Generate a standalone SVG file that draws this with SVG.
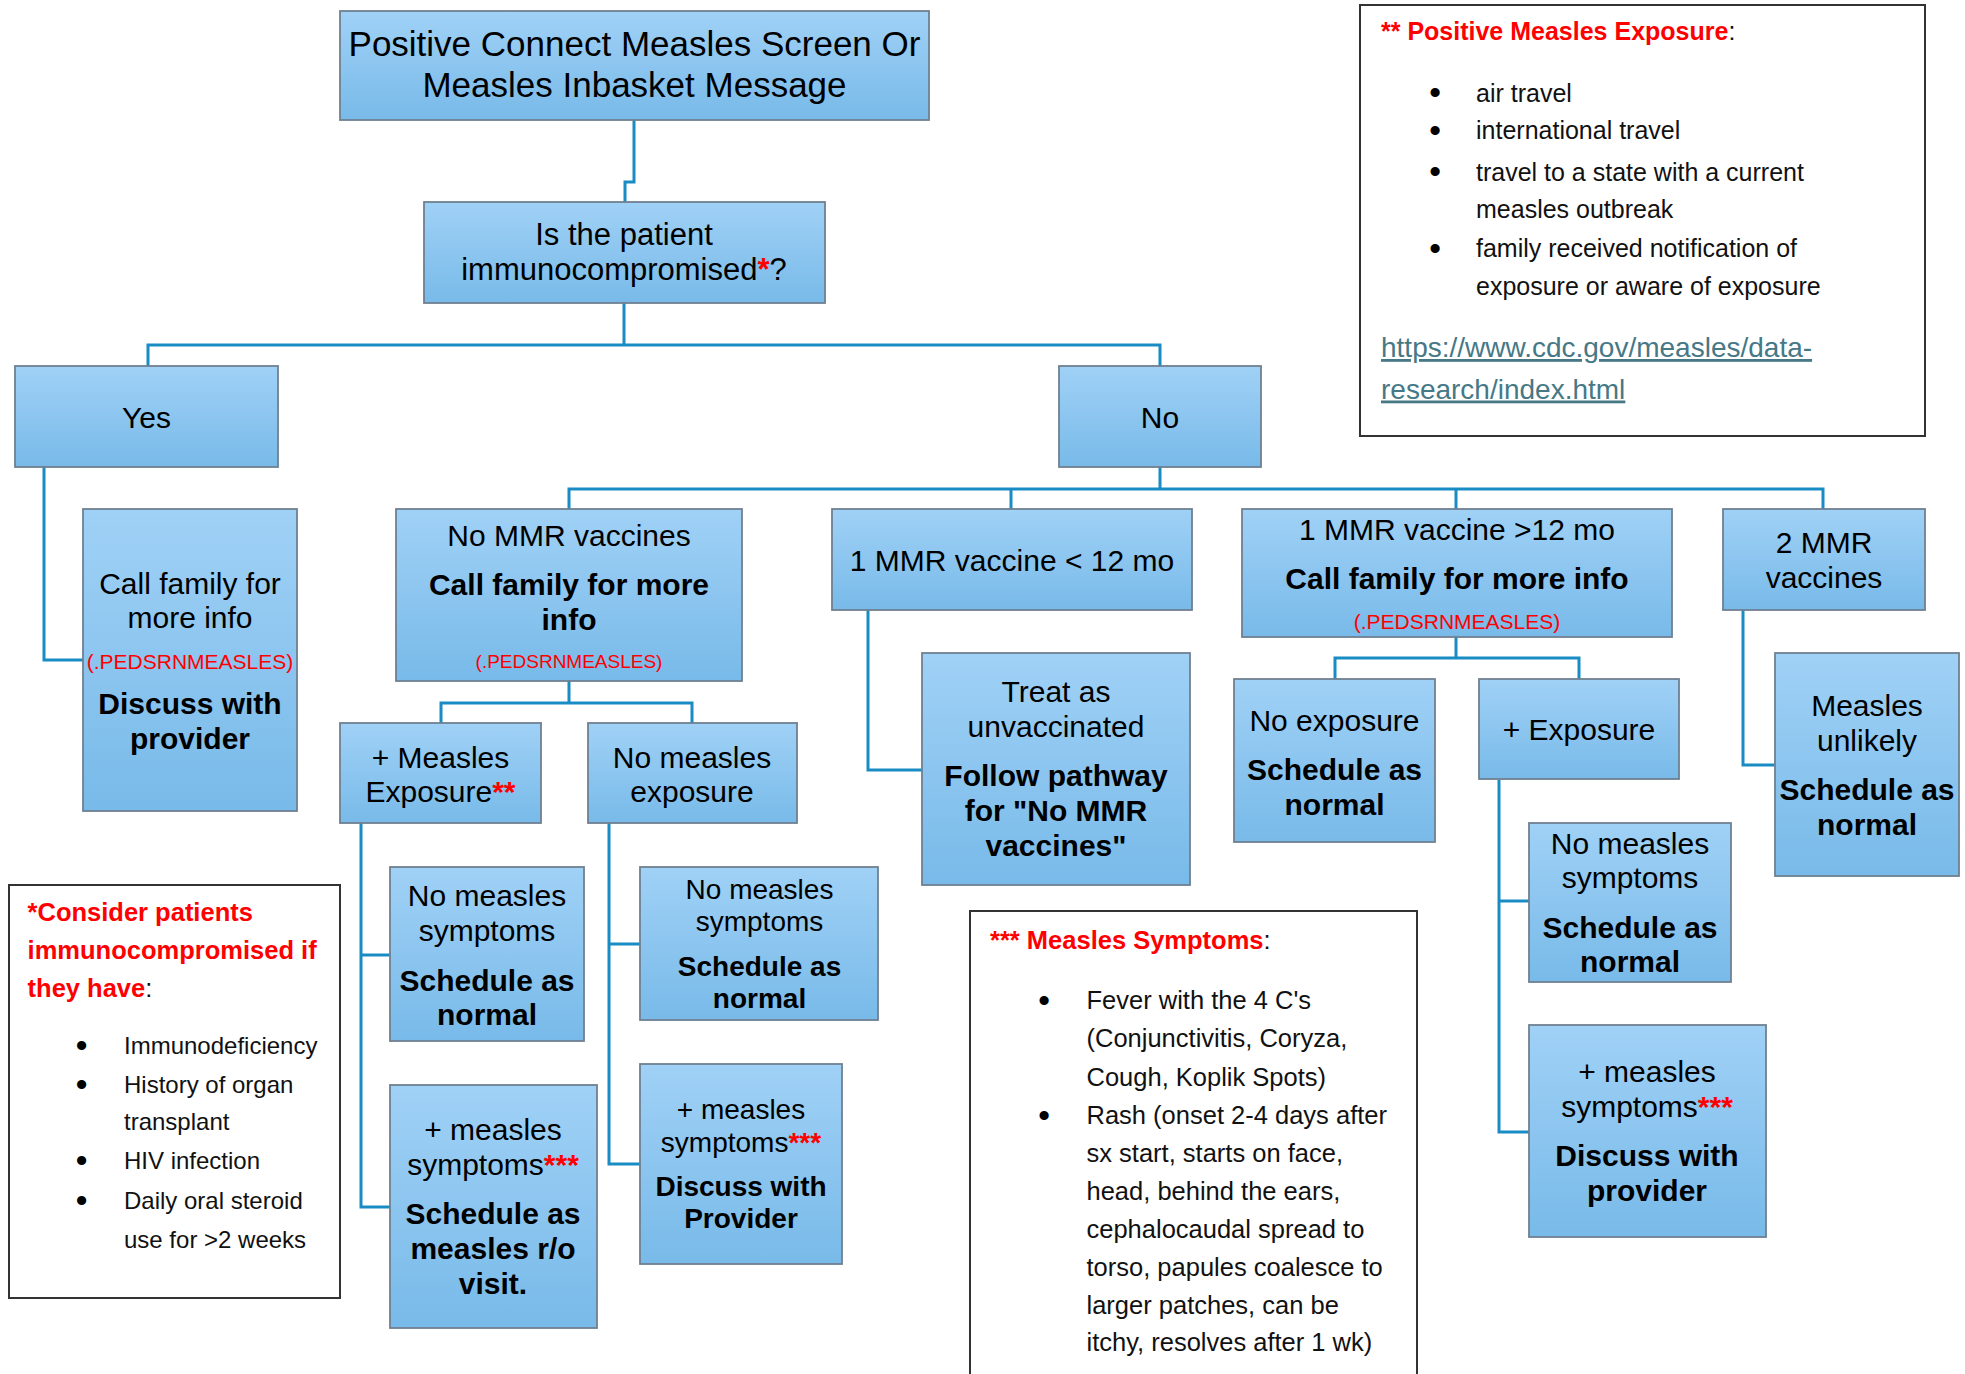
<svg xmlns="http://www.w3.org/2000/svg" width="1965" height="1374" viewBox="0 0 1965 1374">
<defs>
<linearGradient id="g" x1="0" y1="0" x2="0" y2="1">
<stop offset="0" stop-color="#A0D1F6"/>
<stop offset="1" stop-color="#78BAE9"/>
</linearGradient>
<style>
.n{fill:url(#g);stroke:#6F8091;stroke-width:1.8}
.lg{fill:#fff;stroke:#333;stroke-width:2}
.t{font-family:"Liberation Sans",Arial,sans-serif;font-size:30px;text-anchor:middle;fill:#000}
.l{font-family:"Liberation Sans",Arial,sans-serif;font-size:25px;fill:#111}
.b{font-weight:bold}
.r{fill:#FF0000}
.rs{fill:#FF0000;font-size:21px}
.m{font-size:28px}
.bu{text-anchor:middle;font-size:32px;font-weight:bold;fill:#000}
.lk{fill:#467886;font-size:28px;text-decoration:underline}
.c{fill:none;stroke:#1A8CC4;stroke-width:3}
</style>
</defs>
<rect width="1965" height="1374" fill="#fff"/>
<g id="connectors">
<path class="c" d="M634,120 V182 H625 V202"/>
<path class="c" d="M624,303 V345 M148,366 V345 H1160 V366"/>
<path class="c" d="M44,467 V660 H83"/>
<path class="c" d="M1160,467 V489 M569,509 V489 H1823 V509 M1011,489 V509 M1456,489 V509"/>
<path class="c" d="M569,681 V703 M441,723 V703 H692 V723"/>
<path class="c" d="M361,823 V1207 H390 M361,955 H390"/>
<path class="c" d="M609,823 V1164 H640 M609,944 H640"/>
<path class="c" d="M868,610 V770 H922"/>
<path class="c" d="M1456,637 V658 M1335,679 V658 H1579 V679"/>
<path class="c" d="M1499,780 V1132 H1529 M1499,901 H1529"/>
<path class="c" d="M1743,610 V765 H1775"/>
</g>
<g id="start">
<rect class="n" x="340" y="11" width="589" height="109"/>
<text class="t" x="634.5" y="56" style="font-size:35px">Positive Connect Measles Screen Or</text>
<text class="t" x="634.5" y="97" style="font-size:35px">Measles Inbasket Message</text>
</g>
<g id="question">
<rect class="n" x="424" y="202" width="401" height="101"/>
<text class="t" x="624" y="245" style="font-size:31px">Is the patient</text>
<text class="t" x="624" y="280" style="font-size:31px">immunocompromised<tspan class="r b">*</tspan>?</text>
</g>
<g id="yes">
<rect class="n" x="15" y="366" width="263" height="101"/>
<text class="t" x="146.5" y="428">Yes</text>
</g>
<g id="no">
<rect class="n" x="1059" y="366" width="202" height="101"/>
<text class="t" x="1160" y="428">No</text>
</g>
<g id="yes-call">
<rect class="n" x="83" y="509" width="214" height="302"/>
<text class="t" x="190" y="594">Call family for</text>
<text class="t" x="190" y="628">more info</text>
<text class="t rs" x="190" y="669">(.PEDSRNMEASLES)</text>
<text class="t b" x="190" y="714">Discuss with</text>
<text class="t b" x="190" y="749">provider</text>
</g>
<g id="no-mmr">
<rect class="n" x="396" y="509" width="346" height="172"/>
<text class="t" x="569" y="546">No MMR vaccines</text>
<text class="t b" x="569" y="595">Call family for more</text>
<text class="t b" x="569" y="630">info</text>
<text class="t rs" x="569" y="668" style="font-size:19px">(.PEDSRNMEASLES)</text>
</g>
<g id="pos-exposure-a">
<rect class="n" x="340" y="723" width="201" height="100"/>
<text class="t" x="440.5" y="768">+ Measles</text>
<text class="t" x="440.5" y="802">Exposure<tspan class="r b">**</tspan></text>
</g>
<g id="no-exposure-a">
<rect class="n" x="588" y="723" width="209" height="100"/>
<text class="t" x="692" y="768">No measles</text>
<text class="t" x="692" y="802">exposure</text>
</g>
<g id="no-symptoms-a">
<rect class="n" x="390" y="867" width="194" height="174"/>
<text class="t" x="487" y="906">No measles</text>
<text class="t" x="487" y="941">symptoms</text>
<text class="t b" x="487" y="991">Schedule as</text>
<text class="t b" x="487" y="1025">normal</text>
</g>
<g id="pos-symptoms-a">
<rect class="n" x="390" y="1085" width="207" height="243"/>
<text class="t" x="493" y="1140">+ measles</text>
<text class="t" x="493" y="1175">symptoms<tspan class="r b">***</tspan></text>
<text class="t b" x="493" y="1224">Schedule as</text>
<text class="t b" x="493" y="1259">measles r/o</text>
<text class="t b" x="493" y="1294">visit.</text>
</g>
<g id="no-symptoms-b">
<rect class="n" x="640" y="867" width="238" height="153"/>
<text class="t m" x="759.5" y="899">No measles</text>
<text class="t m" x="759.5" y="931">symptoms</text>
<text class="t m b" x="759.5" y="976">Schedule as</text>
<text class="t m b" x="759.5" y="1008">normal</text>
</g>
<g id="pos-symptoms-b">
<rect class="n" x="640" y="1064" width="202" height="200"/>
<text class="t m" x="741" y="1119">+ measles</text>
<text class="t m" x="741" y="1152">symptoms<tspan class="r b">***</tspan></text>
<text class="t m b" x="741" y="1196">Discuss with</text>
<text class="t m b" x="741" y="1228">Provider</text>
</g>
<g id="one-mmr-under12">
<rect class="n" x="832" y="509" width="360" height="101"/>
<text class="t" x="1012" y="571">1 MMR vaccine &lt; 12 mo</text>
</g>
<g id="treat-unvaccinated">
<rect class="n" x="922" y="653" width="268" height="232"/>
<text class="t" x="1056" y="702">Treat as</text>
<text class="t" x="1056" y="737">unvaccinated</text>
<text class="t b" x="1056" y="786">Follow pathway</text>
<text class="t b" x="1056" y="821">for "No MMR</text>
<text class="t b" x="1056" y="856">vaccines"</text>
</g>
<g id="one-mmr-over12">
<rect class="n" x="1242" y="509" width="430" height="128"/>
<text class="t" x="1457" y="540">1 MMR vaccine &gt;12 mo</text>
<text class="t b" x="1457" y="589">Call family for more info</text>
<text class="t rs" x="1457" y="629">(.PEDSRNMEASLES)</text>
</g>
<g id="no-exposure-c">
<rect class="n" x="1234" y="679" width="201" height="163"/>
<text class="t" x="1334.5" y="731">No exposure</text>
<text class="t b" x="1334.5" y="780">Schedule as</text>
<text class="t b" x="1334.5" y="815">normal</text>
</g>
<g id="pos-exposure-c">
<rect class="n" x="1479" y="679" width="200" height="100"/>
<text class="t" x="1579" y="740">+ Exposure</text>
</g>
<g id="no-symptoms-c">
<rect class="n" x="1529" y="823" width="202" height="159"/>
<text class="t" x="1630" y="854">No measles</text>
<text class="t" x="1630" y="888">symptoms</text>
<text class="t b" x="1630" y="938">Schedule as</text>
<text class="t b" x="1630" y="972">normal</text>
</g>
<g id="pos-symptoms-c">
<rect class="n" x="1529" y="1025" width="237" height="212"/>
<text class="t" x="1647" y="1082">+ measles</text>
<text class="t" x="1647" y="1117">symptoms<tspan class="r b">***</tspan></text>
<text class="t b" x="1647" y="1166">Discuss with</text>
<text class="t b" x="1647" y="1201">provider</text>
</g>
<g id="two-mmr">
<rect class="n" x="1723" y="509" width="202" height="101"/>
<text class="t" x="1824" y="553">2 MMR</text>
<text class="t" x="1824" y="588">vaccines</text>
</g>
<g id="measles-unlikely">
<rect class="n" x="1775" y="653" width="184" height="223"/>
<text class="t" x="1867" y="716">Measles</text>
<text class="t" x="1867" y="751">unlikely</text>
<text class="t b" x="1867" y="800">Schedule as</text>
<text class="t b" x="1867" y="835">normal</text>
</g>
<g id="legend-exposure">
<rect class="lg" x="1360" y="5" width="565" height="431"/>
<text class="l" x="1381" y="40"><tspan class="r b">** Positive Measles Exposure</tspan>:</text>
<text class="l bu" x="1435" y="103">•</text>
<text class="l" x="1476" y="101.5">air travel</text>
<text class="l bu" x="1435" y="140.5">•</text>
<text class="l" x="1476" y="139">international travel</text>
<text class="l bu" x="1435" y="182">•</text>
<text class="l" x="1476" y="180.5">travel to a state with a current</text>
<text class="l" x="1476" y="218">measles outbreak</text>
<text class="l bu" x="1435" y="258.5">•</text>
<text class="l" x="1476" y="257">family received notification of</text>
<text class="l" x="1476" y="294.5">exposure or aware of exposure</text>
<text class="l lk" x="1381" y="357">https://www.cdc.gov/measles/data-</text>
<text class="l lk" x="1381" y="398.5">research/index.html</text>
</g>
<g id="legend-immuno">
<rect class="lg" x="9" y="885" width="331" height="413"/>
<text class="l r b" x="27.6" y="921" style="font-size:25.5px">*Consider patients</text>
<text class="l r b" x="27.6" y="959" style="font-size:25.5px">immunocompromised if</text>
<text class="l" x="27.6" y="996.5" style="font-size:25.5px"><tspan class="r b">they have</tspan>:</text>
<text class="l bu" x="81.5" y="1055.5">•</text>
<text class="l" x="124" y="1054" style="font-size:24px">Immunodeficiency</text>
<text class="l bu" x="81.5" y="1094.5">•</text>
<text class="l" x="124" y="1093" style="font-size:24px">History of organ</text>
<text class="l" x="124" y="1130" style="font-size:24px">transplant</text>
<text class="l bu" x="81.5" y="1170.5">•</text>
<text class="l" x="124" y="1169" style="font-size:24px">HIV infection</text>
<text class="l bu" x="81.5" y="1210.5">•</text>
<text class="l" x="124" y="1209" style="font-size:24px">Daily oral steroid</text>
<text class="l" x="124" y="1248" style="font-size:24px">use for &gt;2 weeks</text>
</g>
<g id="legend-symptoms">
<rect class="lg" x="970" y="911" width="447" height="480"/>
<text class="l" x="990" y="949" style="font-size:25.5px"><tspan class="r b">*** Measles Symptoms</tspan>:</text>
<text class="l bu" x="1044" y="1010.5">•</text>
<text class="l" x="1086.5" y="1009" style="font-size:25.5px">Fever with the 4 C's</text>
<text class="l" x="1086.5" y="1046.5" style="font-size:25.5px">(Conjunctivitis, Coryza,</text>
<text class="l" x="1086.5" y="1085.5" style="font-size:25.5px">Cough, Koplik Spots)</text>
<text class="l bu" x="1044" y="1125.5">•</text>
<text class="l" x="1086.5" y="1124" style="font-size:25.5px">Rash (onset 2-4 days after</text>
<text class="l" x="1086.5" y="1162" style="font-size:25.5px">sx start, starts on face,</text>
<text class="l" x="1086.5" y="1199.5" style="font-size:25.5px">head, behind the ears,</text>
<text class="l" x="1086.5" y="1238" style="font-size:25.5px">cephalocaudal spread to</text>
<text class="l" x="1086.5" y="1276" style="font-size:25.5px">torso, papules coalesce to</text>
<text class="l" x="1086.5" y="1313.5" style="font-size:25.5px">larger patches, can be</text>
<text class="l" x="1086.5" y="1351" style="font-size:25.5px">itchy, resolves after 1 wk)</text>
</g>
</svg>
